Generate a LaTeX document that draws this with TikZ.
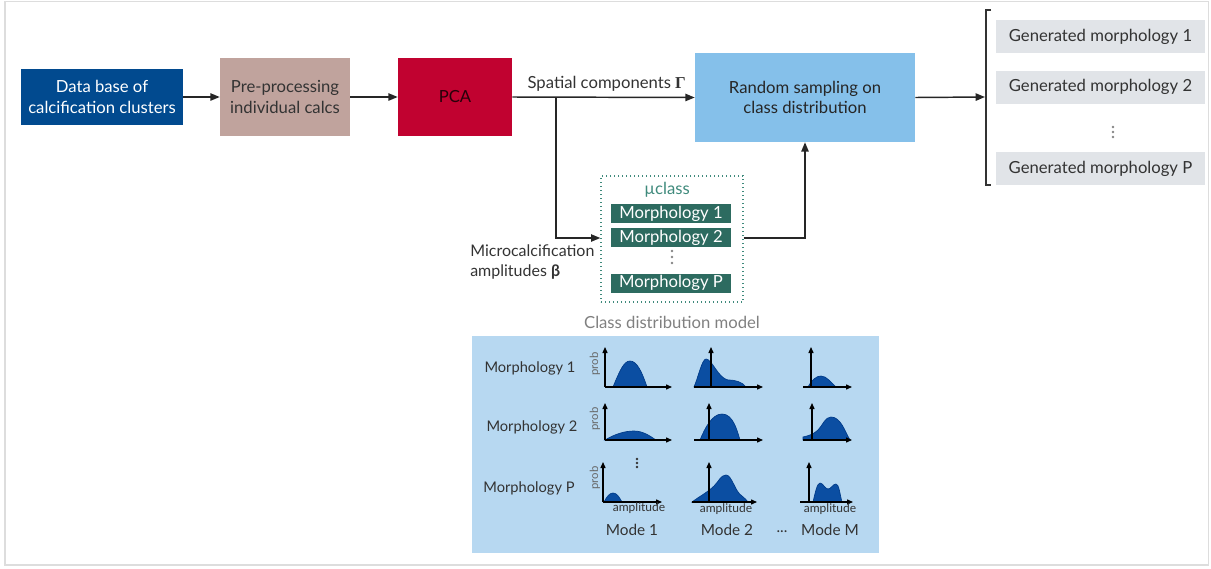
\documentclass[tikz,border=0pt]{standalone}
\usepackage{fontspec}
\setmainfont{Lato}
\newfontfamily\serifgr{Liberation Serif}
\usetikzlibrary{arrows.meta,positioning,calc}
\definecolor{dbblue}{HTML}{014A8F}
\definecolor{preproc}{HTML}{C0A39D}
\definecolor{pcared}{HTML}{C10230}
\definecolor{rsblue}{HTML}{85C0EA}
\definecolor{morphgreen}{HTML}{2D6B60}
\definecolor{tealtxt}{HTML}{3F8A7C}
\definecolor{panelblue}{HTML}{B7D8F1}
\definecolor{genbox}{HTML}{E1E4E8}
\definecolor{txtdark}{HTML}{333333}
\definecolor{curvefill}{HTML}{0B4EA2}
\definecolor{curveline}{HTML}{003A88}
\definecolor{framegray}{HTML}{DDDDDD}
\tikzset{
  mainfont/.style={font=\fontsize{12.5}{15.5}\selectfont},
  flowbox/.style={mainfont, align=center, inner sep=2pt},
  morphbox/.style={fill=morphgreen, text=white, font=\fontsize{12.5}{14}\selectfont, minimum width=90pt, minimum height=14.25pt, inner sep=0pt},
  genbx/.style={fill=genbox, text=txtdark, mainfont, minimum width=156.75pt, minimum height=24.75pt, inner sep=0pt},
  flowarrow/.style={-{Triangle[length=7pt,width=5.5pt]}, line width=1.1pt, draw=black!85},
  axisarrow/.style={-{Triangle[length=4.5pt,width=3.8pt]}, line width=0.9pt, draw=black},
  curve/.style={fill=curvefill, draw=curveline, line width=0.5pt},
  rowlabel/.style={text=txtdark, font=\fontsize{11}{13}\selectfont},
  problabel/.style={text=txtdark!75, font=\fontsize{8.5}{9}\selectfont, rotate=90, inner sep=0pt},
  amplabel/.style={text=txtdark, font=\fontsize{9}{10}\selectfont, inner sep=0pt},
  modelabel/.style={text=txtdark, font=\fontsize{11.5}{13}\selectfont},
}
\begin{document}
\begin{tikzpicture}[x=0.75pt,y=-0.75pt]
\useasboundingbox (0,0) rectangle (1211,568);
\draw[framegray, line width=1.3pt] (5,1.5) rectangle (1208.5,565);

% main flow boxes
\node[flowbox, fill=dbblue, text=white, minimum width=121.5pt, minimum height=42pt] (db) at (102,97) {Data base of\\calcification clusters};
\node[flowbox, fill=preproc, text=txtdark, minimum width=97.5pt, minimum height=58.5pt] (pre) at (285,97) {Pre-processing\\individual calcs};
\node[flowbox, fill=pcared, text=black!80!pcared, minimum width=85.5pt, minimum height=58.5pt] (pca) at (455,97) {PCA};
\node[flowbox, fill=rsblue, text=black!85, minimum width=165pt, minimum height=66.75pt] (rs) at (805,97.5) {Random sampling on\\class distribution};

% dotted class box
\node[draw=tealtxt, dotted, line width=1pt, minimum width=106.5pt, minimum height=94.5pt] (cls) at (672,239) {};
\node[text=tealtxt, mainfont, inner sep=0pt] (mu) at (667,190) {µclass};
\node[morphbox] (m1) at (671,213.5) {Morphology 1};
\node[morphbox] (m2) at (671,237.5) {Morphology 2};
\foreach \yy in {251,257,263} \fill[txtdark!60] (672,\yy) circle[radius=1pt];
\node[morphbox] (mp) at (671,283) {Morphology P};

% labels
\node[text=txtdark, mainfont, anchor=south west, inner sep=1pt] (spl) at (526,93) {Spatial components {\serifgr\bfseries Γ}};
\node[text=txtdark, font=\fontsize{12}{15}\selectfont, align=left, anchor=west, inner sep=0pt] (mcl) at (470,262) {Microcalcification\\amplitudes \textbf{β}};
\node[text=black!50, mainfont] (cdm) at (672,322) {Class distribution model};

% connectors
\draw[flowarrow] (db.east) -- (pre.west);
\draw[flowarrow] (pre.east) -- (pca.west);
\draw[flowarrow] (pca.east) -- (rs.west);
\coordinate (br) at (556,97);
\draw[flowarrow] (br) -- (556,238) -- (cls.west |- 0,238);
\draw[flowarrow] (cls.east |- 0,238) -- (805,238) -- (rs.south);

% generated outputs
\draw[black!80, line width=0.9pt] (991,10) -- (986,10) -- (986,185) -- (991,185);
\coordinate (bk) at (985,97);
\draw[flowarrow] (rs.east) -- (bk);
\node[genbx] (g1) at (1100.5,36.5) {Generated morphology 1};
\node[genbx] (g2) at (1100.5,87) {Generated morphology 2};
\foreach \yy in {127,132,137} \fill[txtdark!60] (1113,\yy) circle[radius=1pt];
\node[genbx] (gp) at (1100.5,168.5) {Generated morphology P};

% panel
\fill[panelblue] (472,336) rectangle (879,553);
\node[rowlabel] (r1) at (530,368) {Morphology 1};
\node[rowlabel] (r2) at (532,427) {Morphology 2};
\node[rowlabel] (r3) at (529,488) {Morphology P};
\node[problabel] (p1) at (595,364) {prob};
\node[problabel] (p2) at (595,419) {prob};
\node[problabel] (p3) at (595,478) {prob};
\foreach \yy in {459,463,467} \fill[txtdark] (637,\yy) circle[radius=1pt];

% row 1 curves
\path[curve] (613,387) .. controls (620,370) and (624,361) .. (630,361) .. controls (637,361) and (642,372) .. (647,387) -- cycle;
\path[curve] (694,387) .. controls (698,378) and (702,359) .. (706,359) .. controls (712,359) and (718,378) .. (728,380) .. controls (736,380) and (742,382) .. (746,387) -- cycle;
\path[curve] (808,387) .. controls (812,380) and (816,376) .. (821,376) .. controls (827,376) and (831,383) .. (836,387) -- cycle;
% row 2 curves
\path[curve] (605,440) .. controls (615,434) and (625,431) .. (634,431) .. controls (643,431) and (650,436) .. (656,440) -- cycle;
\path[curve] (700,440) .. controls (705,428) and (712,414) .. (722,414) .. controls (733,414) and (737,430) .. (740,440) -- cycle;
\path[curve] (803,440) -- (803,437) .. controls (808,436) and (814,434) .. (818,430) .. controls (823,425) and (825,417) .. (831,417) .. controls (841,417) and (845,432) .. (850,440) -- cycle;
% row 3 curves
\path[curve] (604,502) .. controls (607,496) and (610,493) .. (613,493) .. controls (617,493) and (619,497) .. (622,502) -- cycle;
\path[curve] (692,502) .. controls (700,496) and (708,492) .. (714,486) .. controls (719,481) and (721,475) .. (726,475) .. controls (732,475) and (735,492) .. (742,496) .. controls (745,498) and (746,500) .. (748,502) -- cycle;
\path[curve] (813,502) .. controls (815,494) and (817,483) .. (820,483) .. controls (823,483) and (825,489) .. (828,489) .. controls (831,489) and (833,484) .. (836,484) .. controls (839,484) and (840,495) .. (842,502) -- cycle;

% axes row 1
\draw[axisarrow] (605,387) -- (605,347);
\draw[axisarrow] (605,387) -- (672,387);
\draw[axisarrow] (711,387) -- (711,347);
\draw[axisarrow] (694,387) -- (763,387);
\draw[axisarrow] (811,387) -- (811,347);
\draw[axisarrow] (803,387) -- (852,387);
% axes row 2
\draw[axisarrow] (605,440) -- (605,403);
\draw[axisarrow] (605,440) -- (672,440);
\draw[axisarrow] (709,440) -- (709,403);
\draw[axisarrow] (694,440) -- (763,440);
\draw[axisarrow] (812,440) -- (812,403);
\draw[axisarrow] (803,440) -- (852,440);
% axes row 3
\draw[axisarrow] (603,502) -- (603,462);
\draw[axisarrow] (603,502) -- (662,502);
\draw[axisarrow] (709,502) -- (709,462);
\draw[axisarrow] (692,502) -- (757,502);
\draw[axisarrow] (809,502) -- (809,462);
\draw[axisarrow] (800,502) -- (853,502);

\node[amplabel] (a1) at (639,508) {amplitude};
\node[amplabel] (a2) at (726,509) {amplitude};
\node[amplabel] (a3) at (830,509) {amplitude};

\node[modelabel] (mo1) at (632,530) {Mode 1};
\node[modelabel] (mo2) at (727,530) {Mode 2};
\node[modelabel] (modots) at (782,532) {...};
\node[modelabel] (mom) at (830,530) {Mode M};
\end{tikzpicture}
\end{document}
